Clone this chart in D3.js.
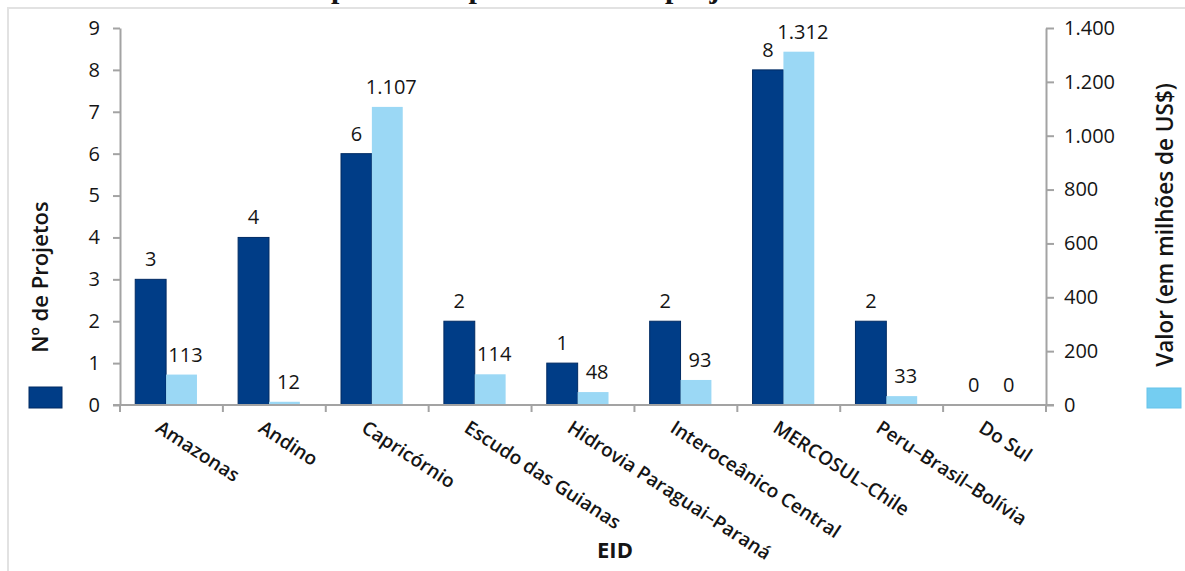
<!DOCTYPE html>
<html>
<head>
<meta charset="utf-8">
<script src="https://cdn.jsdelivr.net/npm/d3@7"></script>
<style>
  body { margin: 0; background: #fff; }
  svg { display: block; }
  text { font-family: "Open Sans", "Noto Sans", sans-serif; fill: #151515; }
</style>
</head>
<body>
<svg id="chart" width="1185" height="571"></svg>
<script>
// Eixos de Integração e Desenvolvimento (EID)
const categories = [
  "Amazonas", "Andino", "Capricórnio", "Escudo das Guianas",
  "Hidrovia Paraguai–Paraná", "Interoceânico Central",
  "MERCOSUL–Chile", "Peru–Brasil–Bolívia", "Do Sul"
];
// Nº de projetos por EID
const projectCounts = [3, 4, 6, 2, 1, 2, 8, 2, 0];
// Valor (em milhões de US$) por EID
const investmentValues = [113, 12, 1107, 114, 48, 93, 1312, 33, 0];

const leftTicks = [0, 1, 2, 3, 4, 5, 6, 7, 8, 9];
const rightTicks = [0, 200, 400, 600, 800, 1000, 1200, 1400];

const titleText = "Gráfico 2 – Tipo de EID por número de projetos e valor";

const ptBR = d3.formatLocale({ decimal: ",", thousands: ".", grouping: [3], currency: ["US$", ""] });
const fmt = ptBR.format(",d");

const svg = d3.select("#chart");
const W = 1185, H = 571;
const plot = { left: 120, right: 1046, top: 28, bottom: 405 };

const darkBlue = "#003d87";
const lightBlue = "#9bd8f5";
const axisGrey = "#a3a3a3";

// frame around the figure
svg.append("rect")
  .attr("x", 8).attr("y", 8)
  .attr("width", W + 20).attr("height", H + 20)
  .attr("fill", "none").attr("stroke", "#e2e2e2").attr("stroke-width", 2);

// figure title (sits above the frame)
const title = svg.append("text")
  .attr("y", -2)
  .attr("font-weight", "bold")
  .attr("font-size", 30)
  .style("font-family", "'Liberation Serif', serif")
  .text(titleText);
{
  const node = title.node();
  const idx = titleText.indexOf("projetos");
  const px = node.getStartPositionOfChar(idx).x;
  title.attr("x", 665 - px);
}

const x = d3.scaleBand()
  .domain(categories)
  .range([plot.left, plot.right])
  .paddingInner(0).paddingOuter(0);

const yLeft = d3.scaleLinear().domain([0, 9]).range([plot.bottom, plot.top]);
const yRight = d3.scaleLinear().domain([0, 1400]).range([plot.bottom, plot.top]);

const bw = x.bandwidth();
const barW = bw * 0.3;
const offset = bw * 0.148;

const rows = categories.map((c, i) => ({ c, n: projectCounts[i], v: investmentValues[i] }));

// bars: number of projects
svg.append("g").selectAll("rect")
  .data(rows).join("rect")
  .attr("x", d => x(d.c) + offset)
  .attr("width", barW)
  .attr("y", d => yLeft(d.n))
  .attr("height", d => plot.bottom - yLeft(d.n))
  .attr("fill", darkBlue)
  .attr("stroke", "#002b63").attr("stroke-width", d => d.n > 0 ? 1 : 0);

// bars: value
svg.append("g").selectAll("rect")
  .data(rows).join("rect")
  .attr("x", d => x(d.c) + offset + barW)
  .attr("width", barW)
  .attr("y", d => yRight(d.v))
  .attr("height", d => plot.bottom - yRight(d.v))
  .attr("fill", lightBlue);

// value labels
svg.append("g").selectAll("text")
  .data(rows).join("text")
  .attr("x", d => x(d.c) + offset + barW / 2)
  .attr("y", d => yLeft(d.n) - 13)
  .attr("text-anchor", "middle")
  .attr("font-size", 20)
  .text(d => fmt(d.n));

svg.append("g").selectAll("text")
  .data(rows).join("text")
  .attr("x", d => x(d.c) + offset + barW * 1.5 + 4)
  .attr("y", d => yRight(d.v) - 13)
  .attr("text-anchor", "middle")
  .attr("font-size", 20)
  .text(d => fmt(d.v));

// left axis
const gl = svg.append("g")
  .attr("transform", `translate(${plot.left},0)`)
  .call(d3.axisLeft(yLeft).tickValues(leftTicks).tickSize(7).tickSizeOuter(0).tickPadding(13).tickFormat(fmt));

// right axis
const gr = svg.append("g")
  .attr("transform", `translate(${plot.right},0)`)
  .call(d3.axisRight(yRight).tickValues(rightTicks).tickSize(8).tickSizeOuter(0).tickPadding(10).tickFormat(fmt));

[gl, gr].forEach(g => {
  g.select(".domain").attr("stroke", axisGrey).attr("stroke-width", 2);
  g.selectAll(".tick line").attr("stroke", axisGrey).attr("stroke-width", 2);
  g.selectAll(".tick text").attr("font-size", 20).attr("fill", "#151515")
    .style("font-family", "'Open Sans', sans-serif");
});

// category axis: line with ticks on the band boundaries
const boundaries = d3.range(categories.length + 1).map(i => plot.left + i * x.step());
const gb = svg.append("g");
gb.append("line")
  .attr("x1", plot.left - 7).attr("x2", plot.right + 8)
  .attr("y1", plot.bottom).attr("y2", plot.bottom)
  .attr("stroke", axisGrey).attr("stroke-width", 2);
gb.selectAll("line.tk").data(boundaries).join("line")
  .attr("class", "tk")
  .attr("x1", d => d).attr("x2", d => d)
  .attr("y1", plot.bottom).attr("y2", plot.bottom + 7)
  .attr("stroke", axisGrey).attr("stroke-width", 2);

// rotated category labels
gb.selectAll("text").data(categories).join("text")
  .attr("transform", d => `translate(${x(d) + bw / 2 - 17},${plot.bottom + 26}) rotate(33)`)
  .attr("text-anchor", "start")
  .attr("font-size", 19)
  .attr("font-weight", 600)
  .text(d => d);

// axis titles
svg.append("text")
  .attr("transform", `translate(48,277) rotate(-90)`)
  .attr("text-anchor", "middle")
  .attr("font-size", 22)
  .attr("font-weight", 600)
  .text("Nº de Projetos");

svg.append("text")
  .attr("transform", `translate(1173,225) rotate(-90)`)
  .attr("text-anchor", "middle")
  .attr("font-size", 22.5)
  .attr("font-weight", 600)
  .text("Valor (em milhões de US$)");

svg.append("text")
  .attr("x", 615).attr("y", 558)
  .attr("text-anchor", "middle")
  .attr("font-size", 22)
  .attr("font-weight", 700)
  .text("EID");

// legend keys
svg.append("rect")
  .attr("x", 29).attr("y", 387).attr("width", 33).attr("height", 21)
  .attr("fill", darkBlue).attr("stroke", "#002b63").attr("stroke-width", 1);
svg.append("rect")
  .attr("x", 1147).attr("y", 388).attr("width", 34).attr("height", 20)
  .attr("fill", "#74cdf1").attr("stroke", "#66c3ea").attr("stroke-width", 1);
</script>
</body>
</html>
